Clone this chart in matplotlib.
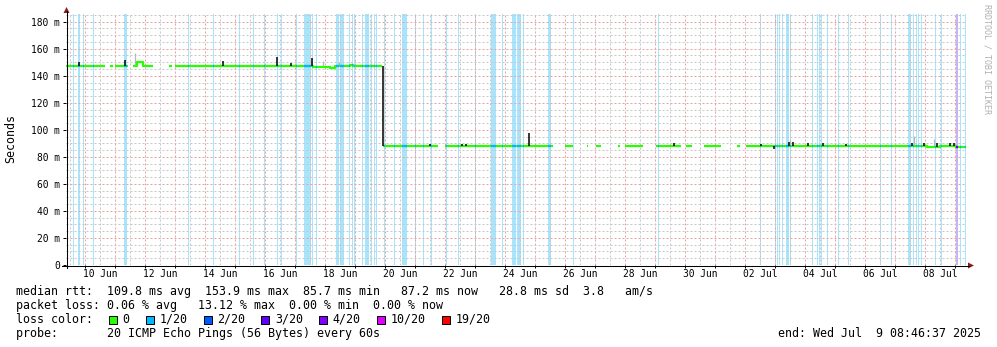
import matplotlib
matplotlib.use("Agg")
from datetime import datetime, timedelta
import numpy as np
import matplotlib.pyplot as plt
from matplotlib.ticker import MultipleLocator, FuncFormatter, NullFormatter
from matplotlib.patches import Rectangle, Polygon
from matplotlib.lines import Line2D

plt.rcParams['font.family'] = 'DejaVu Sans Mono'

# every x value is hours after 2025-06-09 00:00
BASE = datetime(2025, 6, 9)
t_end = 728.777          # Wed Jul 9 08:46:37
t_start = t_end - 30 * 24

# median rtt in ms, one entry per stretch of data
run_start = [8.8, 44.0, 48.0, 62.4, 65.6, 70.4, 91.2, 96.0, 206.4, 220.0, 224.0, 236.0,
             238.4, 261.6, 262.4, 312.0, 408.0, 425.6, 432.8, 450.4, 456.0, 480.8,
             504.8, 519.2, 545.6, 552.8, 697.6, 708.0, 720.8]
run_end = [40.0, 46.4, 58.4, 65.6, 70.4, 78.4, 93.6, 206.4, 220.0, 224.0, 236.0, 238.4,
           261.6, 262.4, 306.4, 398.4, 414.4, 426.4, 436.8, 452.0, 470.4, 500.8,
           509.6, 532.8, 548.0, 697.6, 708.0, 720.8, 728.8]
run_ms = [147.4, 147.0, 147.0, 147.5, 150.3, 147.2, 147.2, 147.3, 146.5, 145.4, 147.3, 148.3,
          147.2, 107.0, 88.0, 88.0, 88.0, 88.0, 88.0, 88.0, 88.0, 88.0,
          88.0, 88.0, 88.0, 88.0, 87.0, 88.0, 87.2]

# dark smoke lines (hour, low ms, high ms)
spike_hour = [19.2, 56.0, 134.4, 177.6, 188.8, 205.6, 262.0, 300.0, 325.6, 328.8, 379.2,
              495.2, 564.8, 575.2, 587.2, 590.4, 602.4, 614.4, 632.8, 685.6, 695.2,
              705.6, 716.0, 719.2]
spike_low = [147.4, 147.0, 147.3, 147.3, 147.3, 147.3, 88.0, 88.0, 88.0, 88.0, 88.0,
             88.0, 88.0, 85.7, 88.0, 88.0, 88.0, 88.0, 88.0, 88.0, 88.0,
             87.0, 88.0, 88.0]
spike_high = [150.4, 151.6, 150.9, 153.9, 149.2, 153.0, 147.2, 89.5, 89.5, 89.5, 97.8,
              90.5, 89.8, 88.0, 91.0, 91.0, 90.5, 90.3, 89.3, 90.5, 90.0,
              90.5, 90.0, 90.5]

# light smoke
smoke_hour = [64.0, 214.4, 227.2, 588.0, 687.2, 703.2]
smoke_low = [147.5, 146.5, 147.3, 88.0, 88.0, 87.0]
smoke_high = [156.6, 151.0, 150.5, 92.5, 95.8, 93.5]

# periods with 1/20 loss
loss1_start = [14.4, 18.4, 22.4, 30.4, 55.2, 106.4, 126.4, 147.2, 158.4, 167.2, 177.6,
               180.8, 192.8, 199.2, 205.6, 208.8, 224.8, 228.0, 235.2, 237.6, 239.2,
               245.6, 248.0, 252.8, 255.2, 256.8, 263.2, 271.2, 277.6, 288.0, 294.4,
               300.8, 312.8, 322.4, 336.0, 348.8, 357.6, 365.6, 369.6, 374.4, 394.4,
               414.4, 482.4, 564.0, 576.0, 577.6, 579.2, 581.6, 584.8, 588.0, 605.6,
               609.6, 611.2, 612.8, 617.6, 626.4, 634.4, 660.0, 668.8, 682.4, 686.4,
               688.8, 690.4, 692.8, 704.0, 708.8, 724.0, 728.0]
loss1_len = [0.8, 1.6, 0.8, 0.8, 2.4, 0.8, 0.8, 0.8, 0.8, 0.8, 0.8,
             0.8, 0.8, 5.6, 0.8, 0.8, 2.4, 3.2, 0.8, 0.8, 0.8,
             0.8, 3.2, 0.8, 0.8, 0.8, 0.8, 0.8, 4.0, 0.8, 0.8,
             0.8, 0.8, 0.8, 0.8, 4.0, 0.8, 3.2, 3.2, 0.8, 2.4,
             0.8, 0.8, 0.8, 0.8, 0.8, 0.8, 0.8, 2.4, 0.8, 0.8,
             0.8, 0.8, 0.8, 0.8, 0.8, 0.8, 0.8, 0.8, 2.4, 0.8,
             0.8, 0.8, 0.8, 0.8, 0.8, 0.8, 0.8]
# periods with 3/20 loss
loss3_start = [720.8]
loss3_len = [1.6]

x_labels = ["10 Jun", "12 Jun", "14 Jun", "16 Jun", "18 Jun", "20 Jun", "22 Jun", "24 Jun",
            "26 Jun", "28 Jun", "30 Jun", "02 Jul", "04 Jul", "06 Jul", "08 Jul"]
y_values = [0, 20, 40, 60, 80, 100, 120, 140, 160, 180]
y_labels = ["0", "20 m", "40 m", "60 m", "80 m", "100 m", "120 m", "140 m", "160 m", "180 m"]

loss_names = ["0", "1/20", "2/20", "3/20", "4/20", "10/20", "19/20"]
loss_colors = ["#26ff00", "#00b8ff", "#0059ff", "#5e00ff", "#7e00ff", "#dd00ff", "#ff0000"]
loss_bg = {1: "#a8e4fb", 3: "#c4b4fa"}

rtt_line = "median rtt:  109.8 ms avg  153.9 ms max  85.7 ms min   87.2 ms now   28.8 ms sd  3.8   am/s"
loss_line = "packet loss: 0.06 % avg   13.12 % max  0.00 % min  0.00 % now"
probe_line = "probe:       20 ICMP Echo Pings (56 Bytes) every 60s"
end_line = "end: Wed Jul  9 08:46:37 2025"

W, H = 997, 347


def fx(px):
    return px / W


def fy(py):
    return 1 - py / H


fig = plt.figure(figsize=(W / 100, H / 100), dpi=100)
fig.patch.set_facecolor("white")
ax = fig.add_axes([fx(66), fy(265), 900 / W, 251 / H])
ax.set_xlim(t_start, t_end)
ax.set_ylim(0, 185.7)

# loss background
for starts, lens, n in ((loss1_start, loss1_len, 1), (loss3_start, loss3_len, 3)):
    for s, l in zip(starts, lens):
        ax.axvspan(s, s + l, color=loss_bg[n], lw=0, zorder=1, antialiased=False)

# smoke
ax.vlines(smoke_hour, smoke_low, smoke_high, colors="#b8b8b8", lw=0.9, zorder=3)

# median line, joined where the runs touch
groups = []
for s, e, v in zip(run_start, run_end, run_ms):
    if groups and abs(groups[-1][-1][1] - s) < 1e-6 and abs(groups[-1][-1][2] - v) < 5:
        groups[-1].append((s, e, v))
    else:
        groups.append([(s, e, v)])
for g in groups:
    gx = [r[0] for r in g] + [g[-1][1]]
    gy = [r[2] for r in g] + [g[-1][2]]
    ax.step(gx, gy, where="post", color=loss_colors[0], lw=1.6, zorder=4,
            solid_capstyle="butt")

# recolour the median where pings were lost
for starts, lens, n in ((loss1_start, loss1_len, 1), (loss3_start, loss3_len, 3)):
    for s, l in zip(starts, lens):
        for rs, re_, v in zip(run_start, run_end, run_ms):
            a, b = max(s, rs), min(s + l, re_)
            if b > a:
                ax.hlines(v, a, b, colors=loss_colors[n], lw=1.6, zorder=4.5)

ax.vlines(spike_hour, spike_low, spike_high, colors="black", lw=1.1, zorder=5)

# grid
ax.set_axisbelow(False)
ax.xaxis.set_major_locator(MultipleLocator(24))
ax.xaxis.set_minor_locator(MultipleLocator(12))
ax.yaxis.set_minor_locator(MultipleLocator(5))
ax.set_yticks(y_values, y_labels)
ax.grid(which="major", color="#e8a4a4", ls=(0, (2, 2)), lw=0.72)
ax.grid(which="minor", color="#c8c8c8", ls=(0, (2, 2)), lw=0.72)

label_at = {}
for lbl in x_labels:
    d = datetime.strptime(lbl + " 2025", "%d %b %Y") + timedelta(hours=12)
    label_at[round((d - BASE).total_seconds() / 3600)] = lbl
ax.xaxis.set_major_formatter(NullFormatter())
ax.xaxis.set_minor_formatter(FuncFormatter(lambda v, p: label_at.get(round(v), "")))

ax.tick_params(axis="x", which="major", length=2.2, width=0.7, direction="out")
ax.tick_params(axis="x", which="minor", length=0, pad=3.2, labelsize=6.9)
ax.tick_params(axis="y", which="major", length=2.2, width=0.7, pad=2.2, labelsize=6.9)
ax.tick_params(axis="y", which="minor", length=0)
for sp in ax.spines.values():
    sp.set_visible(False)

# axes with arrows
fig.add_artist(Line2D([fx(62), fx(969)], [fy(265.5), fy(265.5)], color="black", lw=0.75))
fig.add_artist(Line2D([fx(66.5), fx(66.5)], [fy(268), fy(11)], color="black", lw=0.75))
arrow_col = "#8b1c1c"
fig.add_artist(Polygon([(fx(63.5), fy(13)), (fx(69.5), fy(13)), (fx(66.5), fy(7))],
                       closed=True, color=arrow_col, lw=0))
fig.add_artist(Polygon([(fx(968), fy(262.5)), (fx(968), fy(268.5)), (fx(974), fy(265.5))],
                       closed=True, color=arrow_col, lw=0))

fig.text(fx(11), fy(139), "Seconds", rotation=90, ha="center", va="center", fontsize=8.35)
fig.text(fx(987), fy(4), "RRDTOOL / TOBI OETIKER", rotation=270, ha="center", va="top",
         fontsize=6, color="#b0b0b0")

# legend block
fig.text(fx(16), fy(295), rtt_line, fontsize=8.35, va="baseline")
fig.text(fx(16), fy(309), loss_line, fontsize=8.35, va="baseline")
fig.text(fx(16), fy(323), "loss color:", fontsize=8.35, va="baseline")
fig.text(fx(16), fy(337), probe_line, fontsize=8.35, va="baseline")
fig.text(fx(981), fy(337), end_line, fontsize=8.35, va="baseline", ha="right")

box_x = [108.5, 146, 203.5, 261, 318.5, 377, 442]
for bx, name, col in zip(box_x, loss_names, loss_colors):
    fig.add_artist(Rectangle((fx(bx), fy(323.5)), 8 / W, 8 / H, facecolor=col,
                             edgecolor="black", lw=0.7))
    fig.text(fx(bx + 14), fy(323), name, fontsize=8.35, va="baseline")

fig.savefig("out.png", dpi=100, facecolor="white")
